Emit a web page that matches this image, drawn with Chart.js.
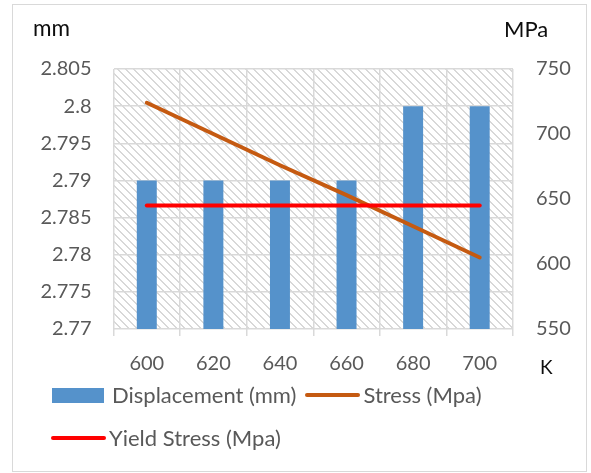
<!DOCTYPE html>
<html>
<head>
<meta charset="utf-8">
<title>Displacement and Stress vs Temperature</title>
<script src="https://cdn.jsdelivr.net/npm/chart.js@4.4.1/dist/chart.umd.min.js"></script>
<style>
    body { margin: 0; background: #ffffff; }
    #wrap { position: relative; width: 591px; height: 473px; font-family: Lato, "Open Sans", sans-serif; overflow: hidden; }
    #frame { position: absolute; left: 12px; top: 4px; width: 575px; height: 468px; border: 1.5px solid #d9d9d9; box-sizing: border-box; }
    #chart { position: absolute; left: 0; top: 0; }
    .axis-title { position: absolute; color: #0d0d0d; line-height: 1; white-space: nowrap; }
    .legend-row { position: absolute; display: flex; align-items: center; height: 22px; line-height: 22px; color: #595959; font-size: 22px; white-space: nowrap; }
    .legend-item { display: flex; align-items: center; }
</style>
</head>
<body>
<div id="wrap">
    <div id="frame"></div>
    <canvas id="chart" width="591" height="473"></canvas>
    <div class="axis-title" style="left:33px; top:17px; font-size:22.5px;">mm</div>
    <div class="axis-title" style="left:504px; top:18px; font-size:22px;">MPa</div>
    <div class="axis-title" style="left:540px; top:357px; font-size:19px;">K</div>
    <div id="legend"></div>
</div>

<script>
// Chart data
const temperatures = ['600', '620', '640', '660', '680', '700'];
const displacement = [2.79, 2.79, 2.79, 2.79, 2.8, 2.8];
const stress = [724, 700, 676, 653, 629, 605];
const yieldStress = [645, 645, 645, 645, 645, 645];

// Tick values for both vertical axes
const mmTicks = [2.77, 2.775, 2.78, 2.785, 2.79, 2.795, 2.8, 2.805];
const mpaTicks = [550, 600, 650, 700, 750];

const tickFont = { family: 'Lato', size: 20 };
const tickColor = '#595959';
const gridColor = '#d9d9d9';

document.addEventListener('DOMContentLoaded', function() {
    const chart = drawChart();
    buildLegend(chart);
});

// Diagonal hatch used behind the plot area
function makeHatch() {
    const tile = document.createElement('canvas');
    tile.width = 8;
    tile.height = 8;
    const c = tile.getContext('2d');
    c.fillStyle = '#ffffff';
    c.fillRect(0, 0, 8, 8);
    c.fillStyle = '#d8d8d8';
    for (let i = 0; i < 8; i++) {
        c.fillRect(i, i, 1, 1);
        c.fillRect((i + 1) % 8, i, 1, 1);
    }
    return c.createPattern(tile, 'repeat');
}

const hatchPlugin = {
    id: 'hatch',
    beforeDraw(chart) {
        const a = chart.chartArea;
        const ctx = chart.ctx;
        ctx.save();
        ctx.fillStyle = makeHatch();
        ctx.fillRect(a.left, a.top, a.right - a.left, a.bottom - a.top);
        ctx.restore();
    }
};

function drawChart() {
    const ctx = document.getElementById('chart');
    return new Chart(ctx, {
        type: 'bar',
        data: {
            labels: temperatures,
            datasets: [{
                type: 'bar',
                label: 'Displacement (mm)',
                data: displacement,
                yAxisID: 'y',
                backgroundColor: '#5592cb',
                categoryPercentage: 1,
                barPercentage: 0.3,
                order: 3
            }, {
                type: 'line',
                label: 'Stress (Mpa)',
                data: stress,
                yAxisID: 'y1',
                borderColor: '#c55a11',
                backgroundColor: '#c55a11',
                borderWidth: 4,
                borderCapStyle: 'round',
                pointRadius: 0,
                tension: 0,
                order: 2
            }, {
                type: 'line',
                label: 'Yield Stress (Mpa)',
                data: yieldStress,
                yAxisID: 'y1',
                borderColor: '#ff0000',
                backgroundColor: '#ff0000',
                borderWidth: 4,
                borderCapStyle: 'round',
                pointRadius: 0,
                tension: 0,
                order: 1
            }]
        },
        options: {
            responsive: false,
            animation: false,
            layout: {
                padding: { top: 69, left: 0, right: 0, bottom: 0 }
            },
            plugins: {
                legend: { display: false },
                tooltip: { enabled: false }
            },
            scales: {
                x: {
                    offset: true,
                    grid: {
                        offset: true,
                        color: gridColor,
                        lineWidth: 1.5,
                        tickLength: 7
                    },
                    border: { display: false },
                    ticks: {
                        font: tickFont,
                        color: tickColor,
                        padding: 16,
                        maxRotation: 0
                    },
                    afterFit: function(scale) { scale.height = 144; }
                },
                y: {
                    position: 'left',
                    min: 2.77,
                    max: 2.805,
                    grid: {
                        color: gridColor,
                        lineWidth: 1.5,
                        drawTicks: false
                    },
                    border: { display: false },
                    ticks: {
                        font: tickFont,
                        color: tickColor,
                        padding: 22,
                        callback: function(value) { return String(parseFloat(value.toFixed(3))); }
                    },
                    afterBuildTicks: function(scale) {
                        scale.ticks = mmTicks.map(v => ({ value: v }));
                    },
                    afterFit: function(scale) { scale.width = 113.5; }
                },
                y1: {
                    position: 'right',
                    min: 550,
                    max: 750,
                    grid: {
                        drawOnChartArea: false,
                        drawTicks: false
                    },
                    border: { display: false },
                    ticks: {
                        font: tickFont,
                        color: tickColor,
                        padding: 23
                    },
                    afterBuildTicks: function(scale) {
                        scale.ticks = mpaTicks.map(v => ({ value: v }));
                    },
                    afterFit: function(scale) { scale.width = 78; }
                }
            }
        },
        plugins: [hatchPlugin]
    });
}

// Legend laid out like the original: two items on the first row, one on the second
function buildLegend(chart) {
    const rows = [
        { left: 52, top: 384, items: [0, 1] },
        { left: 51, top: 427, items: [2] }
    ];
    const host = document.getElementById('legend');
    rows.forEach(row => {
        const div = document.createElement('div');
        div.className = 'legend-row';
        div.style.left = row.left + 'px';
        div.style.top = row.top + 'px';
        row.items.forEach((i, n) => {
            const ds = chart.data.datasets[i];
            const item = document.createElement('div');
            item.className = 'legend-item';
            if (n > 0) item.style.marginLeft = '9px';
            const swatch = document.createElement('div');
            const text = document.createElement('span');
            if (ds.type === 'bar') {
                swatch.style.cssText = 'width:52px;height:15px;background:' + ds.backgroundColor;
                text.style.marginLeft = '8px';
            } else {
                swatch.style.cssText = 'width:55px;height:4px;border-radius:2px;background:' + ds.borderColor;
                text.style.marginLeft = '3px';
            }
            text.textContent = ds.label;
            item.appendChild(swatch);
            item.appendChild(text);
            div.appendChild(item);
        });
        host.appendChild(div);
    });
}
</script>
</body>
</html>
